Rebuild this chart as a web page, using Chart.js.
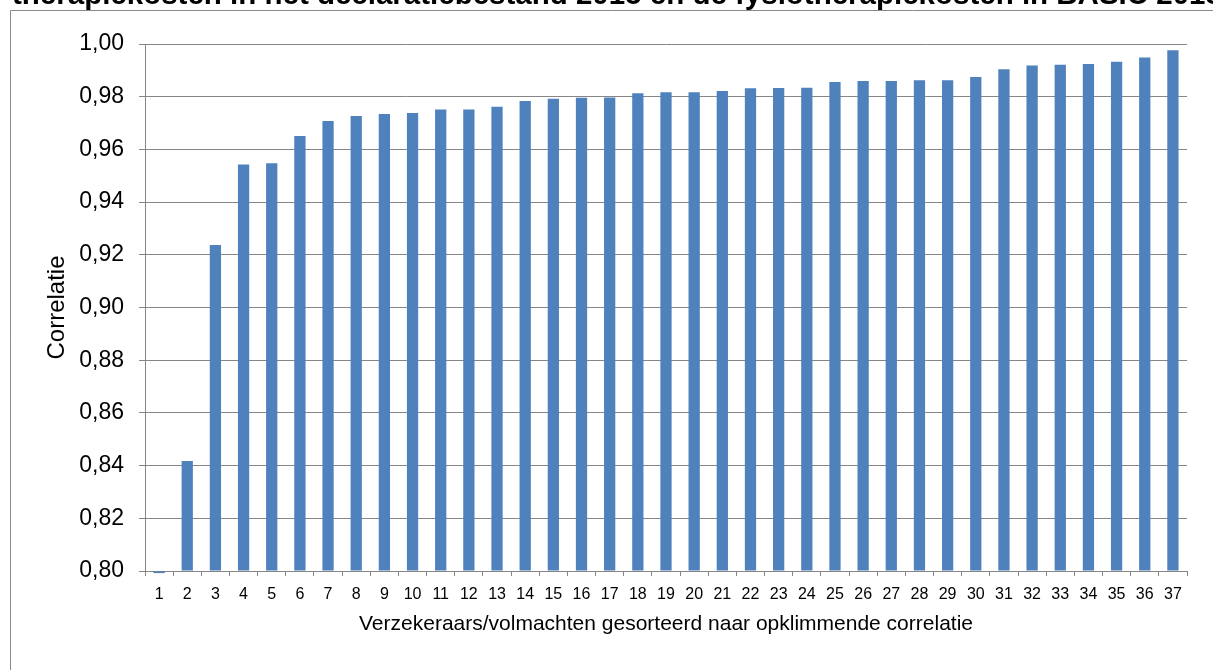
<!DOCTYPE html>
<html lang="nl">
<head>
<meta charset="utf-8">
<title>Correlatie fysiotherapiekosten</title>
<script src="https://cdn.jsdelivr.net/npm/chart.js@4/dist/chart.umd.min.js"></script>
<style>
  html, body { margin: 0; padding: 0; background: #ffffff; }
  #wrap { width: 1213px; height: 670px; position: relative; }
</style>
</head>
<body>
<div id="wrap"><canvas id="chart" width="1213" height="670"></canvas></div>
<script>
// Insurers / authorised agents, sorted by ascending correlation
const categories = ['1','2','3','4','5','6','7','8','9','10','11','12','13','14','15','16','17','18','19',
  '20','21','22','23','24','25','26','27','28','29','30','31','32','33','34','35','36','37'];

const correlatie = [0.7992, 0.8417, 0.9237, 0.9543, 0.9547, 0.9651, 0.9708, 0.9727, 0.9734, 0.9738,
  0.9751, 0.9751, 0.9762, 0.9784, 0.9792, 0.9796, 0.9797, 0.9813, 0.9817, 0.9817, 0.9822, 0.9832,
  0.9833, 0.9834, 0.9856, 0.9860, 0.9860, 0.9862, 0.9862, 0.9875, 0.9904, 0.9918, 0.9921, 0.9924,
  0.9933, 0.9949, 0.9976];

const yTicks = [0.80, 0.82, 0.84, 0.86, 0.88, 0.90, 0.92, 0.94, 0.96, 0.98, 1.00];

const titleText = 'therapiekosten in het declaratiebestand 2015 en de fysiotherapiekosten in BASIC 2015';
const xTitle = 'Verzekeraars/volmachten gesorteerd naar opklimmende correlatie';
const yTitle = 'Correlatie';

const FONT = '"Liberation Sans", Arial, Helvetica, sans-serif';
const GRID = '#868686';

// Outer frame and the heading line above it
const framePlugin = {
  id: 'frame',
  beforeDraw(chart) {
    const ctx = chart.ctx;
    ctx.save();
    ctx.fillStyle = '#ffffff';
    ctx.fillRect(0, 0, chart.width, chart.height);
    ctx.strokeStyle = '#898989';
    ctx.lineWidth = 1;
    ctx.beginPath();
    ctx.moveTo(10.5, chart.height);
    ctx.lineTo(10.5, 10.5);
    ctx.lineTo(chart.width, 10.5);
    ctx.stroke();

    ctx.fillStyle = '#000000';
    ctx.font = 'bold 29.5px ' + FONT;
    ctx.textAlign = 'left';
    ctx.textBaseline = 'alphabetic';
    ctx.fillText(titleText, 12, 4);
    ctx.restore();
  }
};

new Chart(document.getElementById('chart'), {
  type: 'bar',
  data: {
    labels: categories,
    datasets: [{
      data: correlatie,
      base: 0.80,
      backgroundColor: '#4F81BD',
      borderWidth: 0,
      categoryPercentage: 1.0,
      barPercentage: 0.4,
      clip: false
    }]
  },
  options: {
    responsive: false,
    animation: false,
    devicePixelRatio: 1,
    layout: { padding: { left: 0, right: 26, top: 44, bottom: 0 } },
    plugins: {
      legend: { display: false },
      tooltip: { enabled: false }
    },
    scales: {
      x: {
        type: 'category',
        offset: true,
        grid: {
          offset: true,
          drawOnChartArea: false,
          drawTicks: true,
          tickLength: 5,
          color: GRID,
          lineWidth: 1
        },
        border: { display: true, color: GRID, width: 1 },
        ticks: {
          autoSkip: false,
          maxRotation: 0,
          minRotation: 0,
          padding: 9,
          color: '#000000',
          font: { family: FONT, size: 16 }
        },
        title: {
          display: true,
          text: xTitle,
          color: '#000000',
          font: { family: FONT, size: 21 },
          padding: { top: 0, bottom: 33 }
        },
        afterFit(scale) { scale.height = 99; }
      },
      y: {
        min: 0.80,
        max: 1.00,
        grid: {
          color: GRID,
          lineWidth: 1,
          drawTicks: true,
          tickLength: 6
        },
        border: { display: true, color: GRID, width: 1 },
        afterBuildTicks(scale) { scale.ticks = yTicks.map(v => ({ value: v })); },
        ticks: {
          padding: 15,
          color: '#000000',
          font: { family: FONT, size: 23 },
          callback: v => Number(v).toFixed(2).replace('.', ',')
        },
        title: {
          display: true,
          text: yTitle,
          color: '#000000',
          font: { family: FONT, size: 24 },
          padding: { top: 43, bottom: 0 }
        },
        afterFit(scale) { scale.width = 145; }
      }
    }
  },
  plugins: [framePlugin]
});
</script>
</body>
</html>
